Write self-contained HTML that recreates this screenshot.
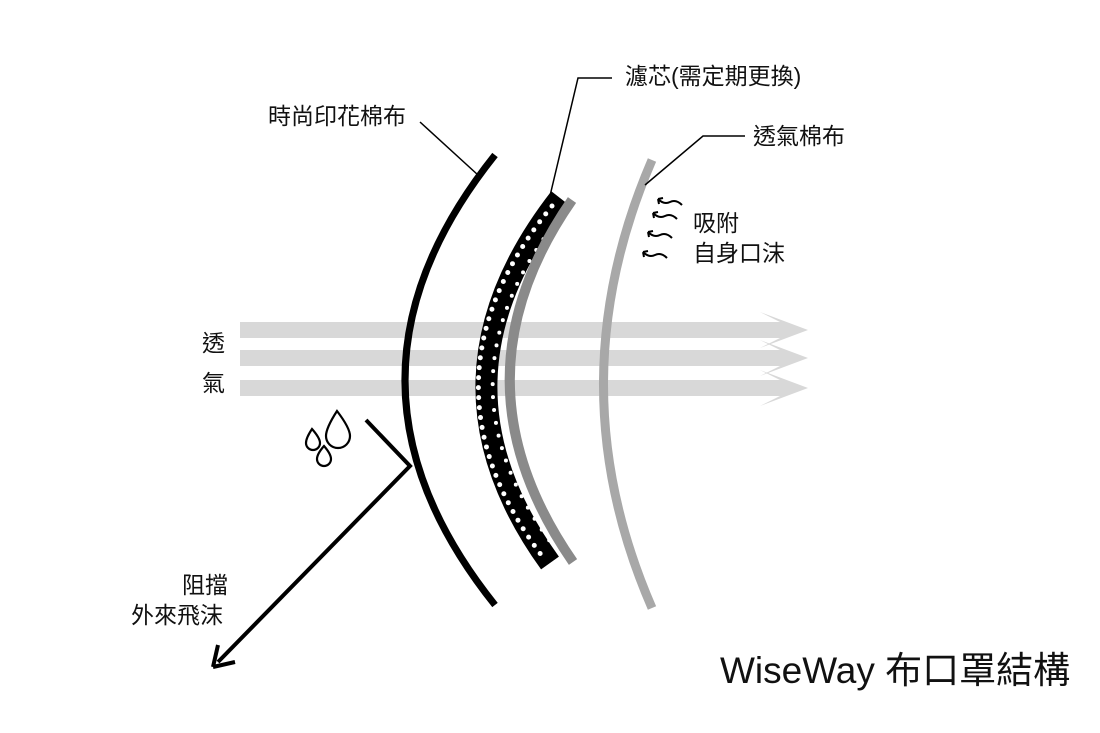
<!DOCTYPE html>
<html><head><meta charset="utf-8"><style>
html,body{margin:0;padding:0;background:#fff;}
svg{display:block}
text{font-family:"Liberation Sans","Noto Sans CJK TC",sans-serif;fill:#111}
</style></head><body>
<svg width="1100" height="733" viewBox="0 0 1100 733" xmlns="http://www.w3.org/2000/svg">
<!-- airflow arrows -->
<g fill="#d8d8d8">
<polygon points="240,322 780,322 760,312 808,330 760,348 780,338 240,338"/>
<polygon points="240,350 780,350 760,340 808,358 760,376 780,366 240,366"/>
<polygon points="240,380 780,380 760,370 808,388 760,406 780,396 240,396"/>
</g>
<!-- outer black fabric -->
<path d="M495,155 Q315,380 495,605" fill="none" stroke="#000" stroke-width="7"/>
<!-- filter -->
<path d="M560,198 Q418,380 550,563" fill="none" stroke="#000" stroke-width="22"/>
<path d="M552,206 Q410,380 542,556" fill="none" stroke="#fff" stroke-width="5" stroke-linecap="round" stroke-dasharray="0 10"/>
<path d="M564,212 Q426,380 555,548" fill="none" stroke="#fff" stroke-width="4" stroke-linecap="round" stroke-dasharray="0 13" stroke-dashoffset="5"/>
<path d="M572,200 Q447,380 573,562" fill="none" stroke="#8a8a8a" stroke-width="10"/>
<!-- inner cotton -->
<path d="M652,160 Q555,385 652,608" fill="none" stroke="#a8a8a8" stroke-width="9"/>
<!-- leader lines -->
<g stroke="#000" stroke-width="1.5" fill="none">
<path d="M420,122 L478,175"/>
<path d="M612,78 L578,78 L549,200"/>
<path d="M745,136 L703,136 L645,185"/>
</g>
<!-- reflection arrow -->
<g stroke="#000" stroke-width="4" fill="none">
<path d="M366,420 L410,466 L218,662"/>
<path d="M213,667 L218,645 M213,667 L235,662"/>
</g>
<!-- droplets -->
<g stroke="#000" stroke-width="2.2" fill="none">
<path d="M337,411 Q350,428 350,436 A11,11 0 0 1 326,436 Q326,428 337,411 Z"/>
<path d="M312,429 Q320,438 320,443 A7,7 0 0 1 306,443 Q306,438 312,429 Z"/>
<path d="M324,446 Q331,454 331,459 A7,7 0 0 1 317,459 Q317,454 324,446 Z"/>
</g>
<!-- squiggles -->
<g stroke="#000" stroke-width="2" fill="none">
<path d="M682,205 Q676,199 670,202 Q664,205 658,199 M658,199 l5,-1 M658,199 l1,5"/>
<path d="M677,219 Q671,213 665,216 Q659,219 653,213 M653,213 l5,-1 M653,213 l1,5"/>
<path d="M672,238 Q666,232 660,235 Q654,238 648,232 M648,232 l5,-1 M648,232 l1,5"/>
<path d="M667,258 Q661,252 655,255 Q649,258 643,252 M643,252 l5,-1 M643,252 l1,5"/>
</g>
<!-- labels -->
<g font-size="23">
<text x="268" y="124">時尚印花棉布</text>
<text x="625" y="84">濾芯(需定期更換)</text>
<text x="753" y="144">透氣棉布</text>
<text x="693" y="231">吸附</text>
<text x="693" y="261">自身口沫</text>
<text x="202" y="351">透</text>
<text x="202" y="391">氣</text>
<text x="182" y="593">阻擋</text>
<text x="131" y="623">外來飛沫</text>
</g>
<text x="720" y="683" font-size="37">WiseWay 布口罩結構</text>
</svg>
</body></html>
